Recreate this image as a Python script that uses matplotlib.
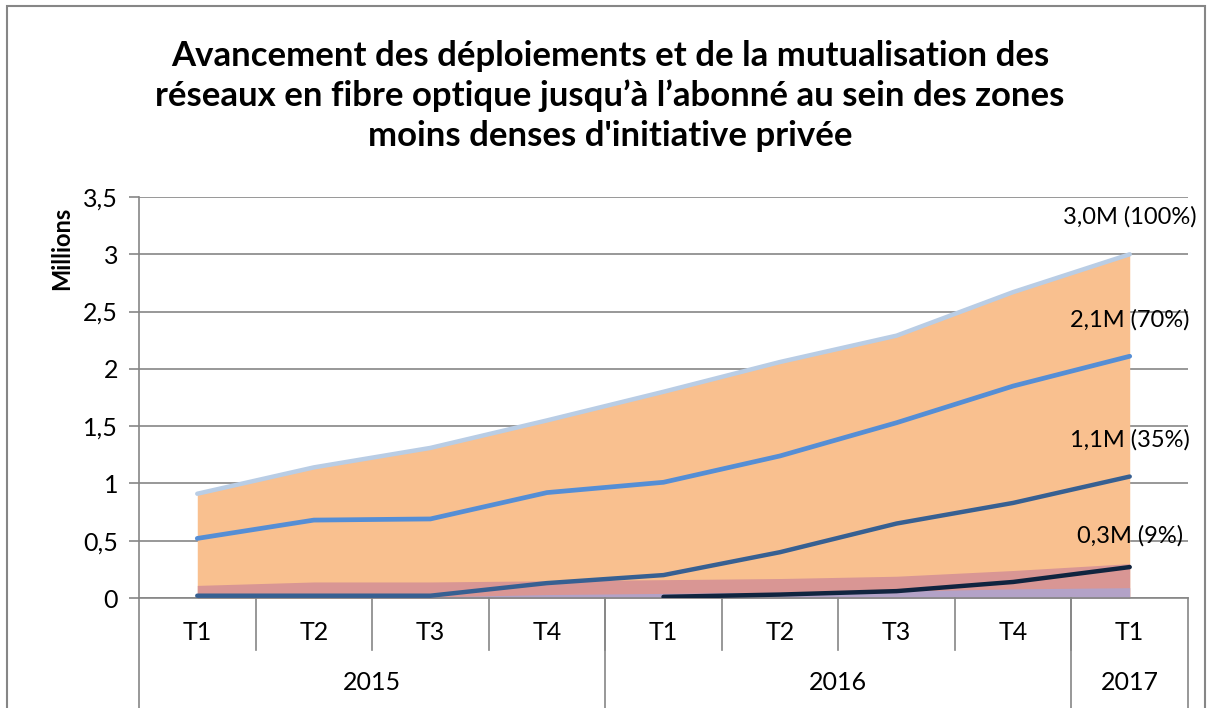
import matplotlib
matplotlib.use("Agg")
import matplotlib.pyplot as plt
from matplotlib.patches import Rectangle
import numpy as np

plt.rcParams['font.family'] = ['Lato', 'DejaVu Sans']

quarters = ["T1", "T2", "T3", "T4", "T1", "T2", "T3", "T4", "T1"]
years = ["2015", "2016", "2017"]
year_spans = [(0, 3), (4, 7), (8, 8)]

# lines (millions)
total = [0.91, 1.14, 1.31, 1.55, 1.80, 2.06, 2.29, 2.67, 3.00]
line_70 = [0.52, 0.68, 0.69, 0.92, 1.01, 1.24, 1.53, 1.85, 2.11]
line_35 = [0.02, 0.02, 0.02, 0.13, 0.20, 0.40, 0.65, 0.83, 1.06]
line_9 = [None, None, None, None, 0.01, 0.03, 0.06, 0.14, 0.27]

# areas (millions)
area_top = total
area_mid = [0.11, 0.14, 0.14, 0.15, 0.16, 0.17, 0.19, 0.24, 0.30]
area_low = [0.0, 0.0, 0.01, 0.03, 0.04, 0.05, 0.06, 0.08, 0.09]

labels = ["3,0M (100%)", "2,1M (70%)", "1,1M (35%)", "0,3M (9%)"]
label_y = [3.33, 2.43, 1.38, 0.54]

W, H = 1213, 708
fig = plt.figure(figsize=(W / 100, H / 100), dpi=100)
ax = fig.add_axes([139 / W, 1 - 598 / H, (1188 - 139) / W, (598 - 197) / H])

x = np.arange(len(quarters))
ax.fill_between(x, 0, area_top, color="#F9C08F", lw=0, zorder=2)
ax.fill_between(x, 0, area_mid, color="#D99694", lw=0, zorder=2)
ax.fill_between(x, 0, area_low, color="#B3A2C7", lw=0, zorder=2)

kw = dict(solid_capstyle="round", solid_joinstyle="round", zorder=4)
ax.plot(x, total, color="#B9CDE5", lw=3.2, **kw)
ax.plot(x, line_70, color="#558ED5", lw=3.4, **kw)
ax.plot(x, line_35, color="#376092", lw=3.2, **kw)
x9 = [i for i, v in enumerate(line_9) if v is not None]
y9 = [v for v in line_9 if v is not None]
ax.plot(x9, y9, color="#10243F", lw=3.2, **kw)

for t, yv in zip(labels, label_y):
    ax.text(8, yv, t, ha="center", va="center", fontsize=17, color="black", zorder=5)

ax.set_xlim(-0.5, 8.5)
ax.set_ylim(0, 3.5)
yt = np.arange(0, 3.51, 0.5)
ax.set_yticks(yt)
ax.set_yticklabels([("%g" % v).replace(".", ",") for v in yt], fontsize=18)
ax.yaxis.grid(True, color="#868686", lw=1.2, zorder=1)
ax.set_axisbelow(True)
ax.tick_params(axis="y", length=7, color="#868686", width=1.2, pad=8)
ax.set_xticks([])
for s in ["top", "right", "bottom"]:
    ax.spines[s].set_visible(False)
ax.spines["left"].set_color("#868686")
ax.spines["left"].set_linewidth(1.2)
ax.set_ylabel("Millions", fontsize=17, fontweight="bold")
ax.yaxis.set_label_coords(-0.063, 0.873)

# category axis (two levels)
trans = ax.get_xaxis_transform()
ax_h = 598 - 197
def fy(px):  # pixel offset below axis -> axes fraction
    return -px / ax_h

ax.plot([-0.5, 8.5], [0, 0], transform=trans, color="#868686", lw=1.2, clip_on=False, zorder=3)
for b in np.arange(0.5, 8, 1):
    ax.plot([b, b], [0, fy(52)], transform=trans, color="#868686", lw=1.2, clip_on=False)
for b in [-0.5, 3.5, 7.5, 8.5]:
    ax.plot([b, b], [0, fy(115)], transform=trans, color="#868686", lw=1.2, clip_on=False)
for i, q in enumerate(quarters):
    ax.text(i, fy(34), q, transform=trans, ha="center", va="center", fontsize=18)
for yr, (a, b) in zip(years, year_spans):
    ax.text((a + b) / 2, fy(85), yr, transform=trans, ha="center", va="center", fontsize=18)

fig.text(0.503, 1 - 96 / H,
         "Avancement des déploiements et de la mutualisation des\n"
         "réseaux en fibre optique jusqu’à l’abonné au sein des zones\n"
         "moins denses d'initiative privée",
         ha="center", va="center", fontsize=25, fontweight="bold", linespacing=1.3)

# outer chart border
fig.patches.append(Rectangle((7 / W, -0.1), (1205 - 7) / W, 1.1 - 6 / H,
                             transform=fig.transFigure, fill=False,
                             edgecolor="#868686", lw=1.5))

fig.savefig("out.png", dpi=100)
